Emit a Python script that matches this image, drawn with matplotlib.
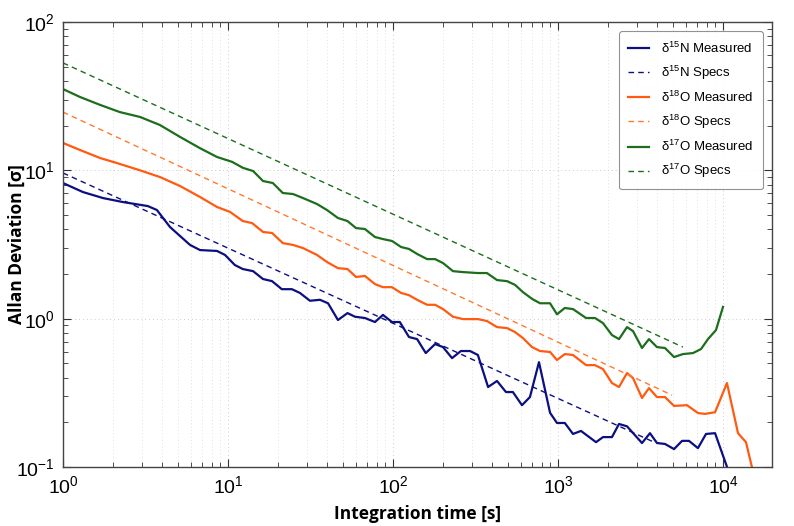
import numpy as np
import matplotlib
matplotlib.use("Agg")
import matplotlib.pyplot as plt
from matplotlib.ticker import LogLocator, NullFormatter

# Donnees (tau en s, deviation d'Allan)
n15_tau = [1.0, 1.32, 1.75, 2.31, 3.27, 3.71, 4.45, 5.89, 6.77, 8.58, 9.59, 11.0, 12.3,
           14.2, 16.3, 18.5, 21.2, 24.4, 27.3, 31.4, 36.1, 40.4, 46.4, 53.0, 58.9, 67.6,
           77.8, 86.9, 98.6, 110, 125, 140, 158, 180, 201, 228, 258, 293, 327, 377, 427,
           484, 533, 605, 676, 767, 895, 986, 1100, 1233, 1378, 1700, 1874, 2124, 2343,
           2620, 3230, 3610, 3980, 4450, 5050, 5650, 6220, 7050, 7890, 8950, 11020]
n15_dev = [8.21, 7.14, 6.50, 6.11, 5.74, 5.40, 4.15, 3.14, 2.90, 2.86, 2.69, 2.30, 2.16,
           2.09, 1.85, 1.79, 1.58, 1.58, 1.49, 1.32, 1.34, 1.27, 0.979, 1.09, 1.03, 1.01,
           0.949, 1.06, 0.949, 0.949, 0.752, 0.728, 0.586, 0.674, 0.643, 0.542, 0.605,
           0.605, 0.569, 0.346, 0.380, 0.320, 0.320, 0.261, 0.296, 0.509, 0.232, 0.198,
           0.198, 0.167, 0.175, 0.147, 0.159, 0.159, 0.195, 0.188, 0.145, 0.169, 0.145,
           0.143, 0.132, 0.150, 0.150, 0.134, 0.167, 0.169, 0.088]

o18_tau = [1.0, 1.27, 1.68, 2.12, 2.93, 3.87, 5.12, 6.77, 8.58, 10.3, 12.3, 14.0, 16.3,
           18.5, 21.5, 24.8, 28.5, 34.6, 39.8, 46.4, 53.0, 59.7, 67.6, 77.8, 86.9, 98.6,
           112, 125, 140, 161, 180, 201, 231, 266, 327, 371, 427, 491, 549, 613, 696,
           778, 895, 986, 1100, 1233, 1479, 1675, 1874, 2124, 2343, 2620, 2850, 3230,
           3560, 3980, 4450, 5050, 6050, 7050, 7780, 8950, 10570, 12330, 13780, 15620]
o18_dev = [15.3, 13.7, 12.1, 11.2, 10.0, 9.01, 7.84, 6.61, 5.66, 5.24, 4.55, 4.41, 3.84,
           3.78, 3.23, 3.14, 2.99, 2.69, 2.41, 2.19, 2.16, 1.91, 1.94, 1.71, 1.63, 1.63,
           1.49, 1.44, 1.34, 1.24, 1.24, 1.16, 1.03, 0.993, 0.993, 0.964, 0.877, 0.864,
           0.812, 0.740, 0.643, 0.605, 0.596, 0.526, 0.577, 0.569, 0.486, 0.486, 0.457,
           0.368, 0.346, 0.430, 0.397, 0.292, 0.340, 0.296, 0.296, 0.258, 0.261, 0.231,
           0.228, 0.234, 0.368, 0.169, 0.147, 0.082]

o17_tau = [1.0, 1.27, 1.68, 2.21, 2.93, 3.87, 5.12, 6.77, 8.58, 10.6, 12.3, 14.2, 16.3,
           18.7, 21.5, 24.8, 28.5, 34.6, 39.8, 46.4, 53.0, 59.7, 67.6, 77.8, 86.9, 98.6,
           112, 125, 140, 161, 180, 201, 231, 266, 327, 371, 427, 491, 549, 613, 696,
           778, 895, 986, 1100, 1233, 1479, 1675, 1874, 2124, 2343, 2620, 2850, 3230,
           3560, 3980, 4450, 5050, 5720, 6580, 7360, 8110, 9070, 10000]
o17_dev = [35.3, 31.2, 27.6, 24.7, 22.9, 20.2, 16.8, 14.1, 12.3, 11.4, 10.4, 9.89, 8.47,
           8.21, 7.03, 6.92, 6.50, 5.93, 5.40, 4.77, 4.55, 4.08, 4.02, 3.55, 3.44, 3.34,
           3.04, 2.95, 2.73, 2.52, 2.52, 2.37, 2.09, 2.06, 2.03, 2.03, 1.82, 1.79, 1.69,
           1.51, 1.36, 1.27, 1.27, 1.07, 1.18, 1.16, 1.01, 1.01, 0.933, 0.775, 0.728,
           0.877, 0.824, 0.634, 0.728, 0.643, 0.634, 0.551, 0.577, 0.586, 0.624, 0.728,
           0.838, 1.20]

# Specifications (droites en log-log)
n15_spec_tau = [1.0, 3770]
n15_spec_dev = [9.6, 0.148]
o18_spec_tau = [1.0, 4910]
o18_spec_dev = [24.7, 0.305]
o17_spec_tau = [1.0, 5720]
o17_spec_dev = [53.0, 0.643]

plt.rcParams["font.family"] = ["Liberation Sans", "DejaVu Sans"]
plt.rcParams["mathtext.fontset"] = "custom"
plt.rcParams["mathtext.rm"] = "Liberation Sans"
plt.rcParams["mathtext.it"] = "Liberation Sans"

navy = "#0b0f80"
orange = "#ff5a10"
orange_spec = "#ff7a30"
green = "#1c6e1c"

fig = plt.figure(figsize=(7.94, 5.26), dpi=100)
ax = fig.add_axes([0.0793, 0.1122, 0.893, 0.8460])

ax.plot(n15_tau, n15_dev, color=navy, lw=1.6, label="δ$^{15}$N Measured")
ax.plot(n15_spec_tau, n15_spec_dev, color=navy, lw=1.0, ls=(0, (4, 3)), label="δ$^{15}$N Specs")
ax.plot(o18_tau, o18_dev, color=orange, lw=1.6, label="δ$^{18}$O Measured")
ax.plot(o18_spec_tau, o18_spec_dev, color=orange_spec, lw=1.0, ls=(0, (4, 3)), label="δ$^{18}$O Specs")
ax.plot(o17_tau, o17_dev, color=green, lw=1.6, label="δ$^{17}$O Measured")
ax.plot(o17_spec_tau, o17_spec_dev, color=green, lw=1.0, ls=(0, (4, 3)), label="δ$^{17}$O Specs")

ax.set_xscale("log")
ax.set_yscale("log")
ax.set_xlim(1, 10 ** 4.297)
ax.set_ylim(0.1, 100)

ax.xaxis.set_major_locator(LogLocator(base=10, numticks=10))
ax.xaxis.set_minor_locator(LogLocator(base=10, subs=np.arange(2, 10), numticks=20))
ax.xaxis.set_minor_formatter(NullFormatter())
ax.yaxis.set_minor_formatter(NullFormatter())

ax.tick_params(which="both", direction="in", top=True, right=True, colors="#333333")
ax.tick_params(which="major", length=6, labelsize=14, pad=6, labelcolor="black")
ax.tick_params(which="minor", length=3.5)
for s in ax.spines.values():
    s.set_color("#444444")
    s.set_linewidth(1.0)

ax.grid(True, which="major", ls=(0, (1, 3)), color="#cccccc", lw=0.7)
ax.grid(True, which="minor", axis="x", ls=(0, (1, 3)), color="#d8d8d8", lw=0.6)

ax.set_xlabel("Integration time [s]", fontsize=12.5, fontweight="bold", family="Open Sans")
ax.set_ylabel("Allan Deviation [σ]", fontsize=12.5, fontweight="bold", family="Open Sans")
ax.xaxis.set_label_coords(0.5, -0.085)
ax.yaxis.set_label_coords(-0.052, 0.5)

leg = ax.legend(loc="upper right", fontsize=9.5, frameon=True, fancybox=True,
                handlelength=1.6, handletextpad=0.9, borderpad=0.7,
                labelspacing=0.6, borderaxespad=0.7)
leg.get_frame().set_edgecolor("#777777")
leg.get_frame().set_linewidth(0.8)

plt.savefig("out.png", dpi=100)
